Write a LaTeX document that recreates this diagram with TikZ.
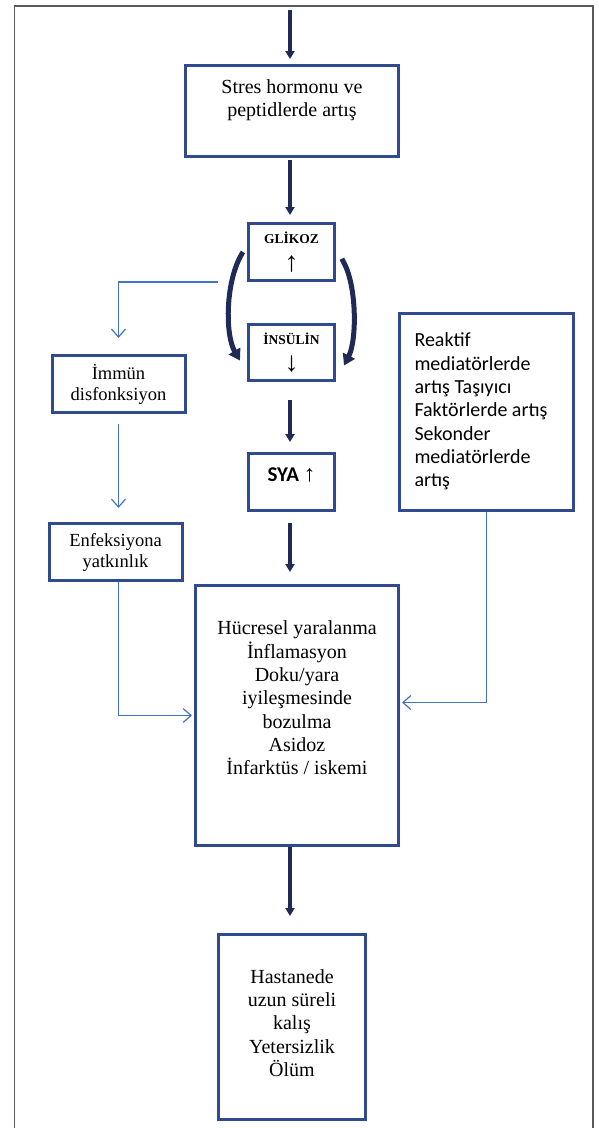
\documentclass[tikz,border=0pt]{standalone}
\usepackage{fontspec}
\setmainfont{Liberation Serif}
\newfontfamily\calibri{Carlito}
\newfontfamily\arrowsans{Liberation Sans}
\usepackage{xcolor}
\usetikzlibrary{arrows.meta,calc}
\definecolor{boxblue}{RGB}{47,74,142}
\definecolor{navy}{RGB}{31,42,86}
\definecolor{linkblue}{RGB}{68,114,196}
\definecolor{framegray}{RGB}{90,90,90}

\begin{document}
\begin{tikzpicture}[x=1pt,y=-1pt,
    box/.style={draw=boxblue,line width=3pt,align=center,inner sep=0pt,font=\fontsize{20}{23.3}\selectfont},
    smallbox/.style={box,font=\fontsize{18.5}{21}\selectfont},
    thick link/.style={draw=navy,line width=4pt,-{Triangle[length=8pt,width=9pt]}},
    thin link/.style={draw=linkblue,line width=1.2pt,-{Straight Barb[length=8pt,width=14pt,line width=1.2pt]}},
    loop link/.style={draw=navy,line width=5pt,-{Triangle[length=11pt,width=13pt]}}]
    \useasboundingbox (0,0) rectangle (598,1128);
    \draw[framegray,line width=1.5pt] (14.5,1128) -- (14.5,6) -- (593,6) -- (593,1128);
    \coordinate (axis) at (290,0);
    \coordinate (top) at (290,10);
    % main column
    \node[box,minimum width=213pt,minimum height=91pt] (stress) at (292,111) {Stres hormonu ve\\peptidlerde artış\\[3pt]};
    \node[box,minimum width=86pt,minimum height=57pt] (gluc) at (291.5,252) {\fontsize{13.5}{15}\selectfont\bfseries GLİKOZ\\[4pt]\fontsize{28}{28}\selectfont↑};
    \node[box,minimum width=86pt,minimum height=56pt] (ins) at (291.5,352.5) {\fontsize{13.5}{15}\selectfont\bfseries İNSÜLİN\\[4pt]\fontsize{28}{28}\selectfont↓};
    \node[box,minimum width=86pt,minimum height=57pt] (sya) at (291.5,482) {\calibri\fontsize{21}{23}\selectfont\bfseries SYA {\arrowsans\mdseries\fontsize{23}{23}\selectfont ↑}\\[-9pt]};
    \node[box,minimum width=203pt,minimum height=260pt] (injury) at (297,715.5) {Hücresel yaralanma\\İnflamasyon\\Doku/yara\\iyileşmesinde\\bozulma\\Asidoz\\İnfarktüs / iskemi\\[12pt]};
    \node[box,minimum width=147pt,minimum height=185pt] (outcome) at (292,1027) {Hastanede\\uzun süreli\\kalış\\Yetersizlik\\Ölüm\\[-15pt]};
    % side boxes
    \node[smallbox,minimum width=133pt,minimum height=57pt] (immune) at (118.5,384) {İmmün\\disfonksiyon};
    \node[smallbox,minimum width=133pt,minimum height=57pt] (infect) at (115.5,552) {Enfeksiyona\\yatkınlık};
    \node[box,align=flush left,font=\calibri\fontsize{20}{23.3}\selectfont,inner xsep=15pt,text width=144pt,minimum height=197pt] (reactive) at (486.5,411.5)
      {Reaktif\\mediatörlerde\\artış Taşıyıcı\\Faktörlerde artış\\Sekonder\\mediatörlerde\\artış};
    % connectors
    \draw[thick link,shorten >=5pt] (top) -- (stress.north -| axis);
    \foreach \a/\b/\s/\e in {stress/gluc/2/7, ins/sya/18/10, sya/injury/11/12, injury/outcome/0/17}
      \draw[thick link,shorten <=\s pt,shorten >=\e pt] (\a.south -| axis) -- (\b.north -| axis);
    \draw[loop link] ([xshift=-4pt]gluc.west) .. controls (225,280) and (225,335) .. ([shift={(-7,8)}]ins.west);
    \draw[loop link,line cap=rect] ([shift={(7,9)}]gluc.east) .. controls (357,285) and (357,340) .. ([shift={(8,13)}]ins.east);
    \draw[thin link] ([xshift=-29pt]gluc.south west) -| ([yshift=16pt]immune.north);
    \draw[thin link,shorten <=10pt,shorten >=14pt] (immune.south) -- (immune.south |- infect.north);
    \draw[thin link,shorten >=2pt] (infect.south -| immune.south) |- (injury.west);
    \draw[thin link,shorten >=2pt] (reactive.south) |- ([yshift=13pt]injury.east);
\end{tikzpicture}
\end{document}
